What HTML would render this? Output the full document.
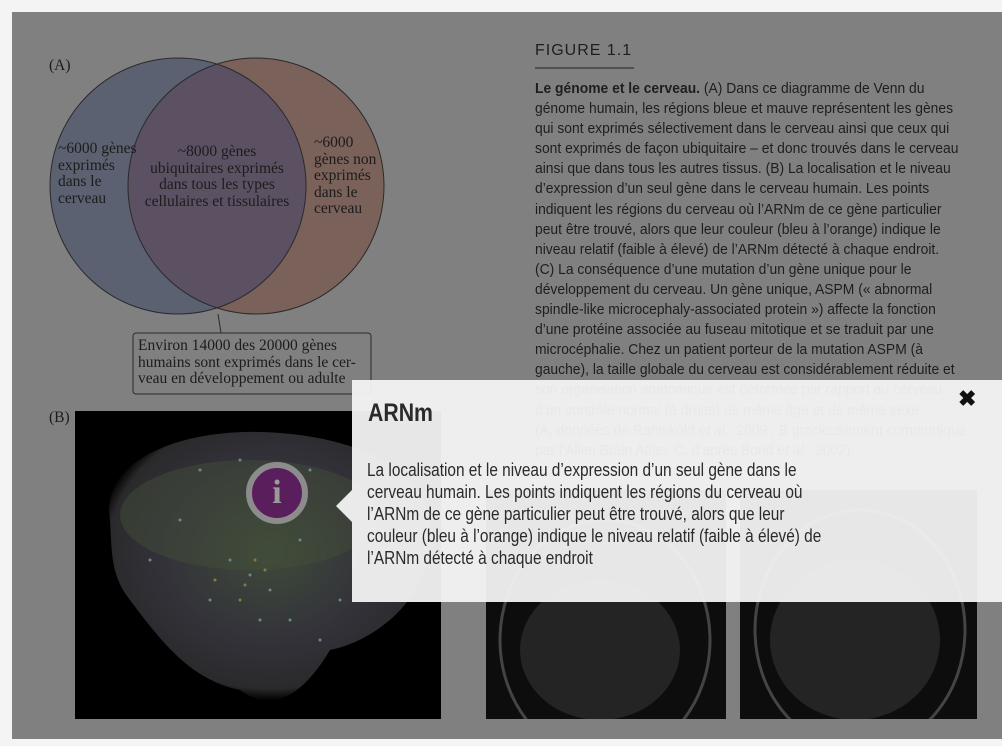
<!DOCTYPE html>
<html><head><meta charset="utf-8"><style>
body{margin:0;width:1002px;height:746px;background:#f4f4f4;position:relative;overflow:hidden;font-family:"Liberation Sans",sans-serif}
#page{position:absolute;left:12px;top:12px;width:990px;height:727px;background:#808080}
.a{position:absolute;white-space:nowrap}
.ser{font-family:"Liberation Serif",serif;color:#1c1c1c;font-size:15.5px;line-height:16.5px}
#txt{position:absolute;left:535px;top:79px;font-size:15px;line-height:20.1px;color:#1e1e1e;transform:scaleX(0.925);transform-origin:0 0;white-space:nowrap}
#pop{position:absolute;left:352px;top:380px;width:650px;height:222px;background:rgba(243,243,243,0.95)}
</style></head><body>
<div id="page"></div>
<svg class="a" style="left:0;top:0" width="1002" height="746">
<defs><clipPath id="cl"><circle cx="178" cy="186" r="128"/></clipPath>
<clipPath id="m1"><rect x="486" y="490" width="240" height="229"/></clipPath>
<clipPath id="m2"><rect x="740" y="490" width="237" height="229"/></clipPath>
<radialGradient id="br" cx="0.5" cy="0.45" r="0.55"><stop offset="0" stop-color="#3e4a3a"/><stop offset="0.6" stop-color="#33323a"/><stop offset="0.92" stop-color="#2a2a2c"/><stop offset="1" stop-color="#2a2a2c" stop-opacity="0"/></radialGradient></defs>
<circle cx="178" cy="186" r="128" fill="#5b6170"/>
<circle cx="256" cy="186" r="128" fill="#7a6159"/>
<circle cx="256" cy="186" r="128" fill="#5b5163" clip-path="url(#cl)"/>
<circle cx="178" cy="186" r="128" fill="none" stroke="#2a2a2a" stroke-width="1"/>
<circle cx="256" cy="186" r="128" fill="none" stroke="#2a2a2a" stroke-width="1"/>
<polyline points="218,314 221,333 229,333" fill="none" stroke="#2a2a2a"/>
<rect x="133" y="333" width="238" height="61" rx="3" fill="#808080" stroke="#2a2a2a"/>
<rect x="75" y="411" width="366" height="308" fill="#000"/>
<path d="M110,520 C100,460 180,430 260,432 C340,434 420,460 430,520 C440,590 380,640 330,650 C300,700 270,712 240,690 C190,680 160,640 130,600 C110,575 112,550 110,520Z" fill="url(#br)"/>
<ellipse cx="250" cy="515" rx="130" ry="55" fill="#45503a" opacity="0.45"/>
<g fill="#6a8a8a">
<circle cx="230" cy="560" r="1.5"/><circle cx="250" cy="575" r="1.5"/><circle cx="270" cy="590" r="1.5"/><circle cx="210" cy="600" r="1.5"/><circle cx="290" cy="620" r="1.5"/><circle cx="320" cy="640" r="1.5"/><circle cx="180" cy="520" r="1.5"/><circle cx="150" cy="560" r="1.5"/><circle cx="300" cy="540" r="1.5"/><circle cx="340" cy="600" r="1.5"/><circle cx="260" cy="620" r="1.5"/><circle cx="200" cy="470" r="1.5"/><circle cx="240" cy="460" r="1.5"/><circle cx="310" cy="470" r="1.5"/></g>
<g fill="#8a7a40"><circle cx="245" cy="585" r="1.5"/><circle cx="255" cy="560" r="1.5"/><circle cx="240" cy="600" r="1.5"/><circle cx="265" cy="570" r="1.5"/><circle cx="215" cy="580" r="1.5"/></g>
<rect x="486" y="490" width="240" height="229" fill="#0d0d0d"/>
<rect x="740" y="490" width="237" height="229" fill="#0d0d0d"/>
<g clip-path="url(#m1)"><ellipse cx="605" cy="640" rx="105" ry="120" fill="none" stroke="#444" stroke-width="3"/>
<ellipse cx="600" cy="650" rx="80" ry="70" fill="#242424"/></g>
<g clip-path="url(#m2)"><ellipse cx="860" cy="630" rx="105" ry="120" fill="none" stroke="#444" stroke-width="3"/>
<ellipse cx="855" cy="640" rx="85" ry="80" fill="#242424"/></g>
<line x1="535" y1="68" x2="634" y2="68" stroke="#222" stroke-width="1"/>
</svg>
<div class="a ser" style="left:49px;top:58px">(A)</div>
<div class="a ser" style="left:49px;top:410px">(B)</div>
<div class="a ser" style="left:58px;top:141px">~6000 gènes<br>exprimés<br>dans le<br>cerveau</div>
<div class="a ser" style="left:137px;top:144px;width:160px;text-align:center">~8000 gènes<br>ubiquitaires exprimés<br>dans tous les types<br>cellulaires et tissulaires</div>
<div class="a ser" style="left:314px;top:135px">~6000<br>gènes non<br>exprimés<br>dans le<br>cerveau</div>
<div class="a ser" style="left:138px;top:338px">Environ 14000 des 20000 gènes<br>humains sont exprimés dans le cer-<br>veau en développement ou adulte</div>
<div class="a" style="left:535px;top:42px;font-size:16px;letter-spacing:1px;color:#1e1e1e">FIGURE 1.1</div>
<div id="txt"><b>Le génome et le cerveau.</b> (A) Dans ce diagramme de Venn du<br>génome humain, les régions bleue et mauve représentent les gènes<br>qui sont exprimés sélectivement dans le cerveau ainsi que ceux qui<br>sont exprimés de façon ubiquitaire – et donc trouvés dans le cerveau<br>ainsi que dans tous les autres tissus. (B) La localisation et le niveau<br>d’expression d’un seul gène dans le cerveau humain. Les points<br>indiquent les régions du cerveau où l’ARNm de ce gène particulier<br>peut être trouvé, alors que leur couleur (bleu à l’orange) indique le<br>niveau relatif (faible à élevé) de l’ARNm détecté à chaque endroit.<br>(C) La conséquence d’une mutation d’un gène unique pour le<br>développement du cerveau. Un gène unique, ASPM (« abnormal<br>spindle-like microcephaly-associated protein ») affecte la fonction<br>d’une protéine associée au fuseau mitotique et se traduit par une<br>microcéphalie. Chez un patient porteur de la mutation ASPM (à<br>gauche), la taille globale du cerveau est considérablement réduite et<br>son organisation anatomique est déformée par rapport au cerveau<br>d’un contrôle normal (à droite) de même âge et de même sexe<br>(A, données de Ramsköld <i>et al.</i>, 2009 ; B gracieusement communiqué<br>par l’Allen Brain Atlas, C, d’après Bond <i>et al.</i>, 2002)</div>
<div class="a" style="left:246px;top:462px;width:50px;height:50px;border-radius:50%;background:#5a1e5c;border:6px solid #8c8c8c;color:#9a9a9a;font:bold 34px/50px 'Liberation Serif',serif;text-align:center">i</div>
<div id="pop"></div>
<svg class="a" style="left:336px;top:490px" width="16" height="32"><polygon points="16,0 0,16 16,32" fill="rgba(243,243,243,0.95)"/></svg>
<div class="a" style="left:368px;top:399px;font-size:25px;font-weight:bold;color:#2a2a2a;transform:scaleX(0.85);transform-origin:0 0">ARNm</div>
<div class="a" style="left:958px;top:386px;font-size:22px;font-weight:bold;color:#111">✖</div>
<div class="a" style="left:367px;top:459px;font-size:18px;line-height:22px;color:#2a2a2a;transform:scaleX(0.855);transform-origin:0 0">La localisation et le niveau d’expression d’un seul gène dans le<br>cerveau humain. Les points indiquent les régions du cerveau où<br>l’ARNm de ce gène particulier peut être trouvé, alors que leur<br>couleur (bleu à l’orange) indique le niveau relatif (faible à élevé) de<br>l’ARNm détecté à chaque endroit</div>
</body></html>
